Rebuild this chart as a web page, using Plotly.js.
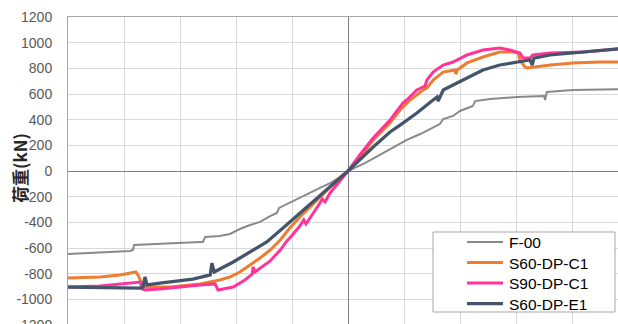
<!DOCTYPE html>
<html>
<head>
<meta charset="utf-8">
<script src="https://cdn.plot.ly/plotly-3.0.1.min.js"></script>
<style>
html,body{margin:0;padding:0;overflow:hidden;background:#fff;}
#chart{width:640px;height:360px;}
</style>
</head>
<body>
<div id="chart"></div>
<script>
// Series names
const seriesNames = ["F-00", "S60-DP-C1", "S90-DP-C1", "S60-DP-E1"];

// F-00 (displacement, load kN)
const f00_x = [-50,-38.9,-38.4,-38.2,-26.4,-25.9,-25.5,-22.9,-21.1,-19.3,-17.5,-15.7,-13.9,-12.7,-12.3,-10.4,-8.6,-6.8,-5.0,-3.2,-1.4,0,
               3.0,6.25,10.5,12.9,15.2,16.4,17.0,18.75,20.0,21.25,22.3,22.7,25.4,30.2,35.0,35.2,35.5,40.2,48.2,50];
const f00_y = [-647,-623,-616,-577,-553,-553,-514,-506,-491,-452,-421,-397,-351,-327,-288,-249,-210,-171,-132,-94,-47,0,
               62,140,242,288,343,366,405,429,468,491,506,545,561,577,584,553,616,631,639,639];

// S60-DP-C1
const c60_x = [-50,-44.3,-40.7,-37.9,-37.5,-36.8,-36.25,-31.8,-26.4,-22.9,-21.1,-19.3,-17.5,-15.7,-13.9,-12.1,-10.4,-8.6,-6.8,-5.0,-3.2,-1.4,0,
               2.1,4.5,7.5,9.3,10.5,11.1,13.4,14.1,15.2,17.0,19.1,19.3,19.5,21.25,24.1,27.1,29.5,30.4,30.7,31.6,32.0,33.0,36.1,40.2,45.0,50];
const c60_y = [-834,-826,-810,-787,-810,-880,-904,-904,-880,-849,-826,-787,-732,-678,-616,-538,-444,-358,-281,-203,-125,-47,0,
               101,242,374,475,530,553,631,647,709,771,787,756,787,842,888,927,927,919,865,810,803,810,826,842,849,849];

// S90-DP-C1
const c90_x = [-50,-44.3,-37.1,-36.8,-36.25,-33.6,-26.4,-23.75,-23.2,-20.5,-18.4,-17.1,-16.96,-16.6,-13.9,-12.1,-10.9,-10.4,-8.6,-7.9,-7.5,-5.9,-5.0,-4.6,-4.1,-3.2,-1.4,0,
               2.1,4.5,7.5,9.8,10.5,12.3,13.75,14.1,15.2,17.0,18.75,21.25,24.1,27.1,28.9,30.7,31.25,32.5,33.0,36.1,42.0,48.2,50];
const c90_y = [-904,-896,-865,-919,-927,-919,-888,-880,-927,-904,-849,-803,-748,-787,-701,-616,-545,-522,-429,-382,-413,-312,-249,-218,-242,-171,-78,0,
               125,257,397,530,553,631,662,709,771,826,849,904,943,958,943,919,880,880,904,919,927,951,958];

// S60-DP-E1
const e60_x = [-50,-37.1,-36.6,-36.25,-35.9,-33.6,-27.7,-24.6,-24.3,-23.9,-20.5,-17.5,-14.5,-11.6,-8.6,-5.5,-2.7,0,
               4.5,7.5,9.3,12.3,15.2,15.9,16.1,17.0,21.25,24.1,27.1,30.2,32.5,32.9,33.2,36.1,42.0,48.2,50];
const e60_y = [-904,-912,-904,-826,-888,-873,-842,-810,-717,-787,-709,-631,-553,-444,-327,-210,-101,0,
               187,304,358,452,553,577,545,631,725,787,826,849,865,826,880,904,927,951,958];

// Axis ticks
const yTickVals = [-1200,-1000,-800,-600,-400,-200,0,200,400,600,800,1000,1200];
const yTickText = ["-1200","-1000","-800","-600","-400","-200","0","200","400","600","800","1000","1200"];
const yTitle = "荷重(kN)";

const colors = ["#898989", "#ED7D31", "#FF3399", "#44546A"];
const widths = [2, 3, 3, 3.25];
const xs = [f00_x, c60_x, c90_x, e60_x];
const ys = [f00_y, c60_y, c90_y, e60_y];

const traces = seriesNames.map((n, i) => ({
  x: xs[i], y: ys[i], name: n, type: "scatter", mode: "lines",
  line: {color: colors[i], width: widths[i], shape: "linear"},
  hoverinfo: "skip", showlegend: false
}));

const font = "Liberation Sans, Arial, sans-serif";
const L = 68, T = 17, PW = 560, PH = 308;
const px2x = p => (p - L) / PW;
const py2y = p => (T + PH - p) / PH;

// Legend drawn as a box with line samples and text labels
const legendRows = [242, 262.5, 283, 303.5];
const shapes = [{
  type: "rect", xref: "paper", yref: "paper", layer: "above",
  x0: px2x(433), x1: px2x(615), y0: py2y(312), y1: py2y(232),
  fillcolor: "#fff", line: {color: "#a6a6a6", width: 1}
}];
const annotations = [{
  text: yTitle, xref: "paper", yref: "paper",
  x: px2x(19), y: py2y(168), xanchor: "center", yanchor: "middle",
  textangle: -90, showarrow: false,
  font: {family: "Noto Sans CJK JP, sans-serif", size: 17, color: "#262626", weight: "bold"}
}];
seriesNames.forEach((n, i) => {
  shapes.push({
    type: "line", xref: "paper", yref: "paper", layer: "above",
    x0: px2x(467), x1: px2x(503), y0: py2y(legendRows[i]), y1: py2y(legendRows[i]),
    line: {color: colors[i], width: widths[i]}
  });
  annotations.push({
    text: n, xref: "paper", yref: "paper", showarrow: false,
    x: px2x(507), y: py2y(legendRows[i] + 0.5), xanchor: "left", yanchor: "middle",
    font: {family: font, size: 15.5, color: "#000"}
  });
});

const layout = {
  width: 640, height: 360,
  margin: {l: L, t: T, r: 640 - L - PW, b: 360 - T - PH},
  paper_bgcolor: "#fff", plot_bgcolor: "#fff",
  showlegend: false,
  xaxis: {
    range: [-50, 50], dtick: 10, tick0: 0, showticklabels: false,
    showgrid: true, gridcolor: "#d9d9d9", gridwidth: 1,
    zeroline: true, zerolinecolor: "#7f7f7f", zerolinewidth: 1,
    showline: true, mirror: true, linecolor: "#a6a6a6", linewidth: 1,
    ticks: "", fixedrange: true
  },
  yaxis: {
    range: [-1200, 1200], tickvals: yTickVals, ticktext: yTickText,
    showgrid: true, gridcolor: "#d9d9d9", gridwidth: 1,
    zeroline: true, zerolinecolor: "#7f7f7f", zerolinewidth: 1,
    showline: true, mirror: true, linecolor: "#a6a6a6", linewidth: 1,
    ticks: "", ticklabelstandoff: 12,
    tickfont: {family: font, size: 14, color: "#595959"},
    fixedrange: true
  },
  shapes: shapes,
  annotations: annotations
};

Plotly.newPlot("chart", traces, layout, {staticPlot: true, displayModeBar: false});
</script>
</body>
</html>
